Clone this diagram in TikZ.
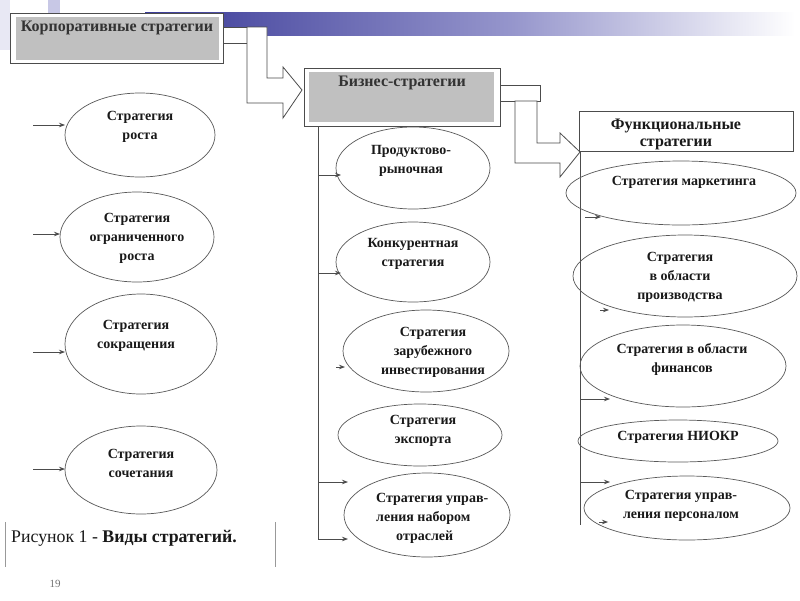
\documentclass[tikz,border=0pt]{standalone}
\usepackage{fontspec}
\setmainfont{Liberation Serif}
\usetikzlibrary{shapes.geometric,arrows.meta,calc}
\definecolor{barA}{RGB}{58,58,152}
\definecolor{barB}{RGB}{150,150,204}
\definecolor{lav}{RGB}{232,232,244}
\definecolor{lavB}{RGB}{200,200,230}
\definecolor{boxgray}{RGB}{192,192,192}
\begin{document}
\begin{tikzpicture}[x=1pt,y=-1pt,
  ell/.style={draw=black!65,line width=0.7pt,ellipse,inner sep=0pt},
  txt/.style={font=\bfseries\fontsize{14}{19}\selectfont,align=center,text=black!90,inner sep=0pt},
  htxt/.style={font=\bfseries\fontsize{16}{19}\selectfont,align=center,text=black!80,inner sep=0pt},
  ln/.style={draw=black!70,line width=0.8pt},
  arr/.style={ln,-{Stealth[length=6pt,width=4.5pt]}},
  hdr/.style={draw=black!70,line width=0.8pt,fill=white,inner sep=0pt,anchor=north west}
]
\useasboundingbox (0,0) rectangle (800,600);
\fill[white] (0,0) rectangle (800,600);
% slide decoration
\fill[lav] (0,0) rectangle (10,50);
\fill[lavB] (48,0) rectangle (60,13);
\shade[left color=barA,right color=barB] (145,12) rectangle (513,35);
\shade[left color=barB,right color=white] (513,12) rectangle (795,35);

% corporate box
\node[hdr,minimum width=213pt,minimum height=50pt] (corp) at (10,13) {};
\fill[boxgray] ($(corp.north west)+(6,4)$) rectangle ($(corp.south east)+(-5,-4)$);
\node[htxt] (corpt) at (117,28) {Корпоративные стратегии};

% arrow corporate -> business
\filldraw[ln,fill=white] (223,27) rectangle (247,43);
\filldraw[ln,fill=white] (247,27) -- (267,27) -- (267,78) -- (283,78) -- (283,67) -- (302,90) -- (283,118) -- (283,103) -- (247,103) -- cycle;

% business box
\node[hdr,minimum width=196pt,minimum height=58pt] (bus) at (304,68) {};
\fill[boxgray] ($(bus.north west)+(5,4)$) rectangle ($(bus.south east)+(-7,-5)$);
\node[htxt] (bust) at (402,83) {Бизнес-стратегии};

% arrow business -> functional
\filldraw[ln,fill=white] (500,85) rectangle (540,101);
\filldraw[ln,fill=white] (537,101) -- (537,143) -- (560,143) -- (560,133) -- (580,152) -- (560,177) -- (560,163) -- (515,163) -- (515,101) -- cycle;

% functional box
\node[hdr,minimum width=214pt,minimum height=40pt] (fun) at (579,111) {};
\node[htxt,font=\bfseries\fontsize{16}{17}\selectfont,text=black!90] (funt) at (676,134) {Функциональные\\стратегии};

% vertical trunks
\coordinate (bv0) at (318,126);
\coordinate (bv1) at (318,539);
\coordinate (fv0) at (580,151);
\coordinate (fv1) at (580,525);
\draw[ln] (fv0) -- (fv1);

% left column
\node[ell,minimum width=150pt,minimum height=84pt] (l1) at (140,135) {};
\node[txt] (l1t) at (140,127) {Стратегия\\роста};
\node[ell,minimum width=154pt,minimum height=90pt] (l2) at (137,237) {};
\node[txt] (l2t) at (137,238) {Стратегия\\ограниченного\\роста};
\node[ell,minimum width=152pt,minimum height=100pt] (l3) at (141,344) {};
\node[txt] (l3t) at (136,336) {Стратегия\\сокращения};
\node[ell,minimum width=152pt,minimum height=88pt] (l4) at (141,470) {};
\node[txt] (l4t) at (141,463) {Стратегия\\сочетания};

\coordinate (a1) at (33,125); \coordinate (b1) at (65,125);
\coordinate (a2) at (33,234); \coordinate (b2) at (60,234);
\coordinate (a3) at (33,352); \coordinate (b3) at (65,352);
\coordinate (a4) at (33,469); \coordinate (b4) at (65,469);
\draw[arr] (a1) -- (b1);
\draw[arr] (a2) -- (b2);
\draw[arr] (a3) -- (b3);
\draw[arr] (a4) -- (b4);

% middle column
\node[ell,minimum width=154pt,minimum height=82pt] (m1) at (413,168) {};
\node[txt] (m1t) at (411,161) {Продуктово-\\рыночная};
\node[ell,minimum width=154pt,minimum height=80pt] (m2) at (413,262) {};
\node[txt] (m2t) at (413,253.5) {Конкурентная\\стратегия};
\node[ell,minimum width=166pt,minimum height=82pt] (m3) at (426,351) {};
\node[txt] (m3t) at (433,352) {Стратегия\\зарубежного\\инвестирования};
\node[ell,minimum width=164pt,minimum height=62pt] (m4) at (420,435) {};
\node[txt] (m4t) at (423,431) {Стратегия\\экспорта};
\node[ell,minimum width=166pt,minimum height=84pt] (m5) at (427,515) {};
\node[txt,align=left,anchor=west] (m5t) at (376,518) {Стратегия управ-\\ления набором\\\hspace*{20pt}отраслей};

\draw[ln] (bus.south west -| bv0) -- (bv1);
\coordinate (c1) at (318,175); \coordinate (d1) at (341,175);
\coordinate (c2) at (318,273); \coordinate (d2) at (341,273);
\coordinate (c3) at (336,367); \coordinate (d3) at (345,367);
\coordinate (c4) at (318,482); \coordinate (d4) at (348,482);
\coordinate (d5) at (348,539);
\draw[arr] (c1) -- (d1);
\draw[arr] (c2) -- (d2);
\draw[arr] (c3) -- (d3);
\draw[arr] (c4) -- (d4);
\draw[arr] (bv1) -- (d5);

% right column
\node[ell,minimum width=230pt,minimum height=64pt] (r1) at (681,193) {};
\node[txt] (r1t) at (684,182) {Стратегия маркетинга};
\node[ell,minimum width=224pt,minimum height=82pt] (r2) at (685,276) {};
\node[txt] (r2t) at (680,277) {Стратегия\\в области\\производства};
\node[ell,minimum width=206pt,minimum height=82pt] (r3) at (683,366) {};
\node[txt] (r3t) at (682,359) {Стратегия в области\\финансов};
\node[ell,minimum width=200pt,minimum height=42pt] (r4) at (678,441) {};
\node[txt] (r4t) at (678,437) {Стратегия НИОКР};
\node[ell,minimum width=206pt,minimum height=64pt] (r5) at (687,508) {};
\node[txt] (r5t) at (681,506) {Стратегия управ-\\ления персоналом};

\coordinate (e1) at (585,217); \coordinate (f1) at (601,217);
\coordinate (e2) at (600,310); \coordinate (f2) at (609,310);
\coordinate (e3) at (580,399); \coordinate (f3) at (610,399);
\coordinate (e4) at (580,482); \coordinate (f4) at (610,482);
\coordinate (e5) at (599,522); \coordinate (f5) at (608,522);
\draw[arr] (e1) -- (f1);
\draw[arr] (e2) -- (f2);
\draw[arr] (e3) -- (f3);
\draw[arr] (e4) -- (f4);
\draw[arr] (e5) -- (f5);

% caption
\draw[black!40,line width=0.6pt] (5,522) -- (5,567);
\draw[black!40,line width=0.6pt] (275,522) -- (275,567);
\node[anchor=west,inner sep=0pt,font=\fontsize{17.8}{20}\selectfont,text=black!90] (cap) at (11,538) {Рисунок 1 - \textbf{Виды стратегий.}};
\node[inner sep=0pt,font=\fontsize{11}{13}\selectfont,text=black!55] (pg) at (55,584) {19};
\end{tikzpicture}
\end{document}
